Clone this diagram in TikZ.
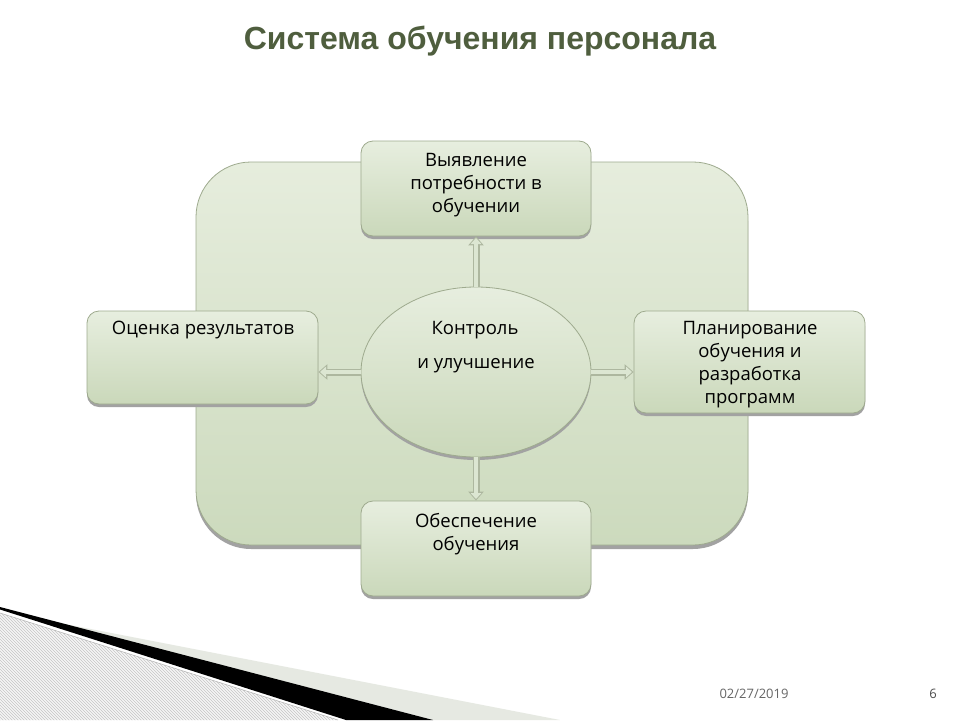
\documentclass[tikz,border=0pt]{standalone}
\usepackage{fontspec}
\setmainfont{Open Sans}
\newfontfamily\titlefont{Liberation Sans}
\usetikzlibrary{shapes.geometric, shadows, arrows.meta, patterns}
\definecolor{titlegreen}{HTML}{4F5E3E}
\definecolor{bgtop}{HTML}{E6EDDD}
\definecolor{bgbot}{HTML}{CCDABD}
\definecolor{boxtop}{HTML}{E7EEDF}
\definecolor{boxbot}{HTML}{CAD8BA}
\definecolor{edgecol}{HTML}{9EAA8E}
\definecolor{shadowgray}{HTML}{A2A2A2}
\definecolor{wedgegray}{HTML}{E6E9E2}
\definecolor{arrowfill}{HTML}{DCE6D2}
\tikzset{
  bigbox/.style={draw=edgecol, line width=0.8pt, rounded corners=55pt,
    top color=bgtop, bottom color=bgbot, inner sep=0pt,
    drop shadow={shadow xshift=0pt, shadow yshift=-4pt, fill=shadowgray, opacity=1}},
  box/.style={draw=edgecol, line width=0.8pt, rounded corners=12pt,
    top color=boxtop, bottom color=boxbot, inner sep=0pt,
    drop shadow={shadow xshift=0pt, shadow yshift=-3pt, fill=shadowgray, opacity=1}},
  oval/.style={ellipse, draw=edgecol, line width=0.8pt,
    top color=boxtop, bottom color=boxbot, inner sep=0pt,
    minimum width=230pt, minimum height=170pt,
    drop shadow={shadow xshift=0pt, shadow yshift=-3pt, fill=shadowgray, opacity=1}},
  txt/.style={align=center, font=\fontsize{18.5}{23}\selectfont, text=black, inner sep=0pt},
  arrowout/.style={line width=7pt, color=edgecol!85, -{Triangle[width=15pt,length=9pt]}},
  arrowin/.style={line width=4.6pt, color=arrowfill, -{Triangle[width=10.5pt,length=6pt]}, shorten >=1.6pt},
}
\begin{document}
\begin{tikzpicture}[x=1pt, y=-1pt]
\useasboundingbox (0,0) rectangle (960,720);
\fill[white] (0,0) rectangle (960,720);

% title
\node[font=\titlefont\bfseries\fontsize{32}{38}\selectfont, text=titlegreen] (title) at (480,41) {Система обучения персонала};

% background panel
\node[bigbox, minimum width=552pt, minimum height=383pt] (bg) at (472,353.5) {};

% boxes
\node[box, minimum width=230pt, minimum height=95pt] (top) at (476,188.5) {};
\node[box, minimum width=231pt, minimum height=93pt] (left) at (202.5,357.5) {};
\node[box, minimum width=231pt, minimum height=102pt] (right) at (749.5,362) {};
\node[box, minimum width=230pt, minimum height=95pt] (bottom) at (476,548.5) {};
\node[oval] (ctr) at (476,372) {};

% texts
\node[txt] (toptext) at (476,185) {Выявление\\потребности в\\обучении};
\node[txt] (lefttext) at (203,330) {Оценка результатов};
\node[txt] (righttext) at (750,365) {Планирование\\обучения и\\разработка\\программ};
\node[txt] (bottomtext) at (476,534.5) {Обеспечение\\обучения};
\node[txt] (ctrtext1) at (475,330) {Контроль};
\node[txt] (ctrtext2) at (476,366) {и улучшение};

% arrows
\draw[arrowout] (ctr.north) -- (top.south);
\draw[arrowin] (ctr.north) -- (top.south);
\draw[arrowout] (ctr.south) -- (bottom.north);
\draw[arrowin] (ctr.south) -- (bottom.north);
\draw[arrowout] (ctr.west) -- (ctr.west -| left.east);
\draw[arrowin] (ctr.west) -- (ctr.west -| left.east);
\draw[arrowout] (ctr.east) -- (ctr.east -| right.west);
\draw[arrowin] (ctr.east) -- (ctr.east -| right.west);

% bottom-left decoration
\fill[wedgegray] (52,621.5) -- (560,720) -- (433,720) -- cycle;
\fill[black] (0,607) -- (433,720) -- (346,720) -- (0,609.5) -- cycle;
\fill[gray!8] (0,613) -- (338,720) -- (0,720) -- cycle;
\fill[pattern=north west lines, pattern color=gray!45] (0,613) -- (338,720) -- (0,720) -- cycle;
\draw[gray!60, line width=0.5pt] (0,613) -- (338,720);

% footer
\node[font=\fontsize{13}{15}\selectfont, text=black!60] (date) at (754,694) {02/27/2019};
\node[font=\fontsize{13}{15}\selectfont, text=black!70] (page) at (933,694) {6};
\end{tikzpicture}
\end{document}
